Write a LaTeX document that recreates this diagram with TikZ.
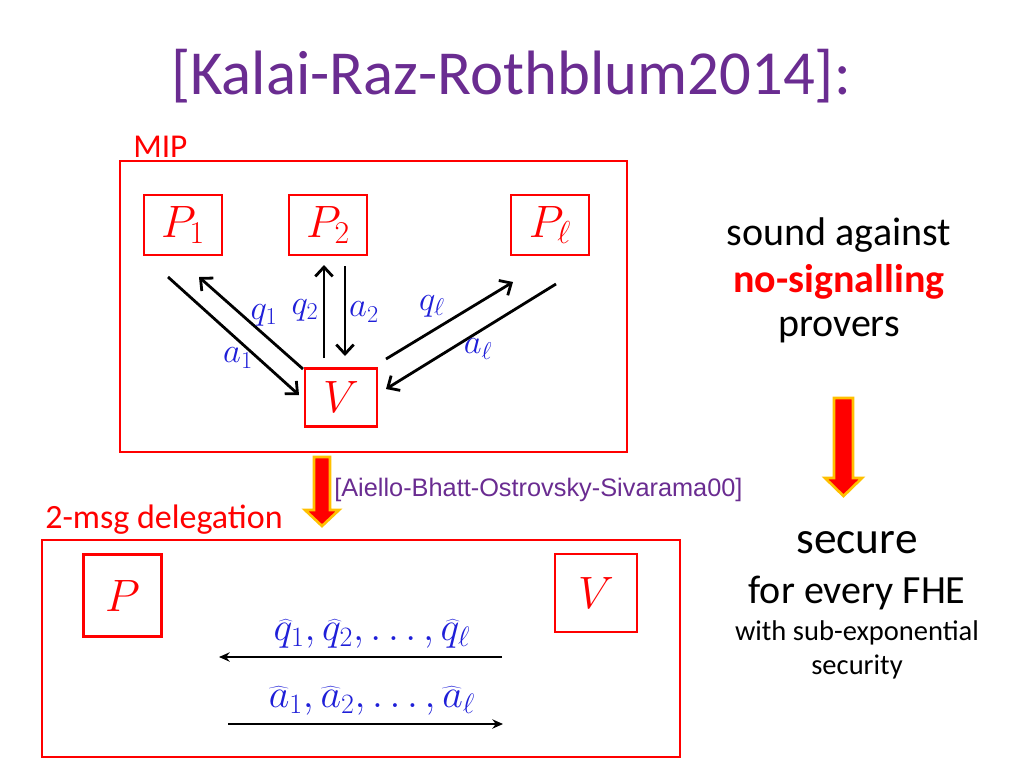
\RequirePackage{fix-cm}
\documentclass[tikz,border=0pt]{standalone}
\usepackage{fontspec}
\setmainfont{Carlito}
\newfontfamily\arialf{Liberation Sans}
\usetikzlibrary{arrows.meta}
\definecolor{ttl}{HTML}{6A2C91}
\definecolor{lblue}{HTML}{1F1FD8}
\definecolor{borange}{HTML}{FFC000}
\tikzset{
  rbox/.style={draw=red, line width=2.2pt, inner sep=0pt},
  pbox/.style={rbox, minimum width=58.5pt, minimum height=45pt, font=\fontsize{34}{40}\selectfont, text=red},
  msg/.style={line width=2.1pt, -{Straight Barb[length=7pt,width=13pt,line width=2.1pt]}},
  hmsg/.style={line width=2pt, -{Stealth[length=8pt,width=7pt]}},
  lab/.style={inner sep=0pt, text=lblue, font=\fontsize{26}{30}\selectfont},
  hlab/.style={inner sep=0pt, text=lblue, font=\fontsize{30}{36}\selectfont},
  barrow/.style={fill=red, draw=borange, line width=2pt, line join=miter},
  txt/.style={inner sep=0pt},
}
\begin{document}
\begin{tikzpicture}[x=0.75pt, y=-0.75pt]
\useasboundingbox (0,0) rectangle (1024,768);
% title
\node[txt, text=ttl, font=\fontsize{47}{54}\selectfont] (title) at (511,76) {[Kalai-Raz-Rothblum2014]:};
% MIP
\node[txt, text=red, font=\fontsize{25}{30}\selectfont, anchor=west] (miplab) at (133,147) {MIP};
\draw[draw=red, line width=2.2pt] (120,161) rectangle (627,452);
\node[pbox] (P1) at (183,225) {$P_1$};
\node[pbox] (P2) at (328,225) {$P_2$};
\node[pbox] (Pl) at (550,225) {$P_\ell$};
\node[pbox, minimum width=54pt, minimum height=44pt] (V) at (341,397.5) {$V$};
% arrow endpoints
\coordinate (a1s) at (168,277); \coordinate (a1e) at (299,395);
\coordinate (q1s) at (303,369); \coordinate (q1e) at (199,277);
\coordinate (q2s) at (324,358); \coordinate (q2e) at (324,265);
\coordinate (a2s) at (345,266); \coordinate (a2e) at (345,356);
\coordinate (qls) at (386,359); \coordinate (qle) at (513,282);
\coordinate (als) at (556,284); \coordinate (ale) at (386,389);
\draw[msg] (a1s) -- (a1e);
\draw[msg] (q1s) -- (q1e);
\draw[msg] (q2s) -- (q2e);
\draw[msg] (a2s) -- (a2e);
\draw[msg] (qls) -- (qle);
\draw[msg] (als) -- (ale);
\node[lab] (lq1) at (264,315) {$q_1$};
\node[lab] (lq2) at (305,310) {$q_2$};
\node[lab] (la2) at (364,312) {$a_2$};
\node[lab] (lql) at (432,306) {$q_\ell$};
\node[lab] (lal) at (478,349) {$a_\ell$};
\node[lab] (la1) at (238,358) {$a_1$};
% right texts
\node[txt, font=\fontsize{30}{34}\selectfont] (t1) at (839,235) {sound against};
\node[txt, font=\bfseries\fontsize{30}{34}\selectfont, text=red] (t2) at (839,282) {no-signalling};
\node[txt, font=\fontsize{30}{34}\selectfont] (t3) at (839,330) {provers};
% block arrows
\draw[barrow] (314,457) -- (330,457) -- (330,510) -- (339,510) -- (322,526) -- (305,510) -- (314,510) -- cycle;
\draw[barrow] (834,398) -- (853,398) -- (853,478) -- (862,478) -- (843.5,496) -- (825,478) -- (834,478) -- cycle;
\node[txt, text=ttl, font=\arialf\fontsize{19}{23}\selectfont, anchor=west] (abos) at (334,490) {[Aiello-Bhatt-Ostrovsky-Sivarama00]};
% bottom
\node[txt, text=red, font=\fontsize{25.5}{30}\selectfont, anchor=west] (dlab) at (45,520) {2-msg delegation};
\draw[draw=red, line width=2.2pt] (42,540) rectangle (680,757);
\node[pbox, minimum width=58pt, minimum height=61pt] (P) at (122.5,595.5) {$P$\hspace{6pt}};
\node[pbox, minimum width=61.5pt, minimum height=58.5pt] (V2) at (596,593) {$V$};
\coordinate (qhs) at (502,657); \coordinate (qhe) at (219,657);
\coordinate (ahs) at (228,724); \coordinate (ahe) at (503,724);
\draw[hmsg] (qhs) -- (qhe);
\draw[hmsg] (ahs) -- (ahe);
\node[hlab] (lqh) at (372,634) {$\widehat{q}_1,\widehat{q}_2,\ldots,\widehat{q}_\ell$};
\node[hlab] (lah) at (372,701) {$\widehat{a}_1,\widehat{a}_2,\ldots,\widehat{a}_\ell$};
% right bottom texts
\node[txt, font=\fontsize{34}{38}\selectfont] (s1) at (857,543) {secure};
\node[txt, font=\fontsize{30}{34}\selectfont] (s2) at (857,593) {for every FHE};
\node[txt, font=\fontsize{21.4}{25}\selectfont] (s3) at (857,633) {with sub-exponential};
\node[txt, font=\fontsize{21.4}{25}\selectfont] (s4) at (857,667) {security};
\end{tikzpicture}
\end{document}
